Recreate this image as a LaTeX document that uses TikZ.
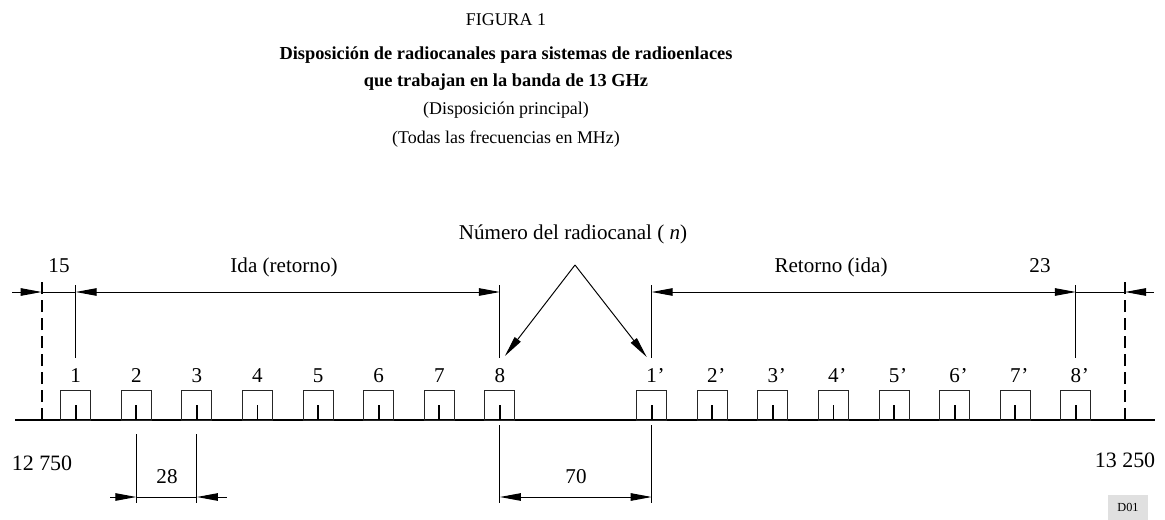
\documentclass[tikz,border=0pt]{standalone}
\usepackage{fontspec}
\setmainfont{Liberation Serif}
\usetikzlibrary{arrows.meta,calc}
\def\lbl{\fontsize{12}{14}\selectfont}
\def\ttl{\fontsize{10.2}{12}\selectfont}
\def\ttlb{\fontsize{10.45}{12}\selectfont\bfseries}
\tikzset{
	thinline/.style={line width=0.55pt},
	thickline/.style={line width=1.1pt},
	chanbox/.style={line width=0.55pt, draw=black!85},
	dashline/.style={line width=1.1pt, dash pattern=on 2.4mm off 1.2mm},
	txt/.style={inner sep=0pt, anchor=base, font=\lbl},
	>={Triangle[length=4.2mm,width=1.5mm]}
}

\begin{document}
\begin{tikzpicture}[x=0.02cm,y=-0.02cm]
			%%%%% START %%%%%
			\useasboundingbox (0,0) rectangle (1165,520);
			
			\node[inner sep=0pt, anchor=base, font=\ttl] (fig) at (506,26) {FIGURA 1};
			\node[inner sep=0pt, anchor=base, font=\ttlb] (t1) at (506,60) {Disposición de radiocanales para sistemas de radioenlaces};
			\node[inner sep=0pt, anchor=base, font=\ttlb] (t2) at (506,87) {que trabajan en la banda de 13 GHz};
			\node[inner sep=0pt, anchor=base, font=\ttl] (t3) at (506,115) {(Disposición principal)};
			\node[inner sep=0pt, anchor=base, font=\ttl] (t4) at (506,144) {(Todas las frecuencias en MHz)};
			
			% levels
			\coordinate (dimL) at (0,292);
			\coordinate (extT) at (0,285);
			\coordinate (extB) at (0,358);
			\coordinate (bdim) at (0,497);
			\coordinate (bext28) at (0,434);
			\coordinate (bext70) at (0,425);
			\coordinate (bextB) at (0,503);
			
			% band edges
			\coordinate (bl) at (15,420);
			\coordinate (br) at (1155,420);
			\coordinate (dl) at (41.7,420);
			\coordinate (dr) at (1125,420);
			\draw[thickline] (bl) -- (br);
			\draw[dashline] (dl) -- ++(0,-143);
			\draw[dashline] (dr) -- ++(0,-143);
			
			% channels
			\foreach \n in {1,...,8} {
				\coordinate (c\n) at ({75.7+(\n-1)*60.6},420);
				\coordinate (p\n) at ({651.7+(\n-1)*60.6},420);
				\draw[chanbox] ($(c\n)+(-15,0)$) rectangle ($(c\n)+(15,-30)$);
				\draw[chanbox] ($(p\n)+(-15,0)$) rectangle ($(p\n)+(15,-30)$);
				\draw[thickline] ($(c\n)+(0,-15)$) -- (c\n);
				\draw[thickline] ($(p\n)+(0,-15)$) -- (p\n);
				\node[txt] (l\n) at ($(c\n)+(0,-38)$) {\n};
				\node[txt] (lp\n) at ($(p\n)+(0,-38)$) {\n\rlap{\kern0.4pt’}};
			}
			
			% top dimensions
			\coordinate (lend) at (12,292);
			\coordinate (rend) at (1154,292);
			\foreach \c in {c1,c8,p1,p8}
				\draw[thinline] (\c |- extT) -- (\c |- extB);
			\draw[thinline,->] (lend) -- (dl |- dimL);
			\draw[thinline] (dl |- dimL) -- (c1 |- dimL);
			\draw[thinline,<->] (c1 |- dimL) -- (c8 |- dimL);
			\draw[thinline,<->] (p1 |- dimL) -- (p8 |- dimL);
			\draw[thinline] (p8 |- dimL) -- (dr |- dimL);
			\draw[thinline,<-] (dr |- dimL) -- (rend);
			
			\node[txt] (w15) at (59,272) {15};
			\node[txt] (ida) at (284,272) {Ida (retorno)};
			\node[txt] (ret) at (831,272) {Retorno (ida)};
			\node[txt] (w23) at (1040,272) {23};
			
			% channel number pointer
			\node[txt] (num) at (573,239) {Número del radiocanal ( \textit{n})};
			\coordinate (apex) at (575,265);
			\coordinate (v8) at ($(c8)+(5,-64)$);
			\coordinate (v1) at ($(p1)+(-5,-63)$);
			\draw[thinline,->] (apex) -- (v8);
			\draw[thinline,->] (apex) -- (v1);
			
			% band limits
			\node[txt, font=\fontsize{12.5}{14}\selectfont] (f1) at (42,470) {12 750};
			\node[txt, font=\fontsize{12.5}{14}\selectfont] (f2) at (1125,467) {13 250};
			
			% bottom dimensions
			\coordinate (a28l) at (110,497);
			\coordinate (a28r) at (227,497);
			\draw[thinline] (c2 |- bext28) -- (c2 |- bextB);
			\draw[thinline] (c3 |- bext28) -- (c3 |- bextB);
			\draw[thinline,->] (a28l) -- (c2 |- bdim);
			\draw[thinline] (c2 |- bdim) -- (c3 |- bdim);
			\draw[thinline,<-] (c3 |- bdim) -- (a28r);
			\node[txt] (w28) at (167,483) {28};
			
			\draw[thinline] (c8 |- bext70) -- (c8 |- bextB);
			\draw[thinline] (p1 |- bext70) -- (p1 |- bextB);
			\draw[thinline,<->] (c8 |- bdim) -- (p1 |- bdim);
			\node[txt] (w70) at (576,483) {70};
			
			\node[fill=black!12, inner sep=0pt, minimum width=0.8cm, minimum height=0.5cm, font=\fontsize{7}{8}\selectfont] (ref) at (1128,507.5) {D01};
			
			%%%%% END %%%%%
		\end{tikzpicture}
\end{document}
